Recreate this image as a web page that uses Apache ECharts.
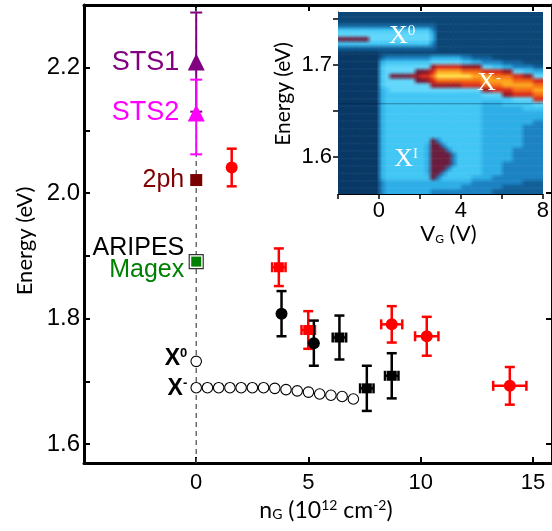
<!DOCTYPE html>
<html><head><meta charset="utf-8">
<script src="https://cdn.jsdelivr.net/npm/echarts@6/dist/echarts.min.js"></script>
<style>html,body{margin:0;padding:0;background:#fff}#c{width:552px;height:531px}</style>
</head><body><div id="c"></div>
<script>
// ===== Main panel data =====
const xTickVals = [0, 5, 10, 15];
const yTickVals = [1.6, 1.8, 2.0, 2.2];
const yMinorVals = [1.6, 1.7, 1.8, 1.9, 2.0, 2.1, 2.2];

// open circles: X- trion vs n_G
const xMinusN = [0, 0.5, 1, 1.5, 2, 2.5, 3, 3.5, 4, 4.5, 5, 5.5, 6, 6.5, 7];
const xMinusE = [1.690, 1.690, 1.690, 1.690, 1.690, 1.690, 1.690, 1.689, 1.687, 1.685, 1.683, 1.680, 1.678, 1.676, 1.672];
const x0N = [0];
const x0E = [1.732];

// points at n_G = 0
const sts1 = [0, 2.209, 2.130, 2.288];   // x, y, low, high
const sts2 = [0, 2.128, 2.062, 2.181];
const twoPh = [0, 2.021];
const magex = [0, 1.891];

// red points
const redX = [1.58, 3.68, 4.99, 8.71, 10.27, 13.97];
const redY = [2.041, 1.882, 1.782, 1.791, 1.772, 1.693];
const redYerr = [0.030, 0.030, 0.030, 0.029, 0.031, 0.030];
const redXerr = [0, 0.3, 0.3, 0.47, 0.52, 0.74];
const redSym = ['circle', 'rect', 'rect', 'circle', 'circle', 'circle'];

// black points
const blkX = [3.80, 5.24, 6.38, 7.60, 8.71];
const blkY = [1.808, 1.761, 1.770, 1.689, 1.709];
const blkYerr = [0.036, 0.036, 0.035, 0.036, 0.036];
const blkXerr = [0, 0, 0.3, 0.3, 0.3];
const blkSym = ['circle', 'circle', 'rect', 'rect', 'rect'];

// text labels left of n_G = 0
const leftLabelText = ['STS1', 'STS2', '2ph', 'ARIPES', 'Magex'];
const leftLabelE = [2.209, 2.128, 2.021, 1.912, 1.877];
const leftLabelColor = ['#800080', '#ff00ff', '#800000', '#000000', '#008000'];
const leftLabelSize = [27, 27, 25, 25, 25];

// ===== Inset data (PL map, Energy vs V_G) =====
const insetXTicks = [-2, 0, 2, 4, 6, 8];
const insetXLabels = [0, 4, 8];
const insetYTicks = [1.6, 1.65, 1.7, 1.75];
const insetYLabels = [1.6, 1.7];
const mapV0 = -2, mapDV = 0.25;       // column start / width (V)
const mapEtop = 1.76, mapDE = 0.005;  // row top / height (eV)
// intensity levels, rows top (high E) -> bottom
const mapRows = [
"11111111 11 1111 1111 11 1111 11 11 11 11 11 11 11 11",
"11111111 11 1111 1111 11 1111 11 11 11 11 11 11 11 11",
"11111111 11 1111 1111 11 1111 11 11 11 11 11 11 11 11",
"22222222 22 2222 2222 21 1111 11 11 11 11 11 11 11 11",
"55555555 55 5555 5555 31 1111 11 11 11 11 11 11 11 11",
"66666666 66 6666 6666 41 1111 11 11 11 11 11 11 11 11",
"cccccc66 66 6666 6666 41 1111 11 11 11 11 11 11 11 11",
"55555555 55 5555 5555 31 1111 11 11 11 11 11 11 11 11",
"22222222 22 2222 2222 21 1111 11 11 11 11 11 11 11 11",
"00000000 11 1111 1111 11 1111 11 11 11 11 11 11 11 11",
"00000000 23 3333 3333 44 4444 33 22 22 11 11 11 11 11",
"00000000 45 5555 5555 66 6666 55 44 33 33 22 22 11 11",
"00000000 56 6666 6666 78 8888 77 77 66 55 44 33 33 22",
"00000000 56 6666 6cc7 8a aaaa 99 99 88 88 77 66 55 44",
"00000000 56 cccc 7788 9b bbbb bb aa aa 99 99 88 77 66",
"00000000 56 6666 6cc7 89 9999 99 99 aa aa aa 99 99 88",
"00000000 56 6666 6666 77 7777 88 88 99 99 aa aa aa 99",
"00000000 45 6666 6666 66 6666 66 66 77 88 88 99 99 aa",
"00000000 45 5555 5555 55 5555 55 55 66 66 77 88 88 99",
"00000000 45 5555 5555 55 5555 55 55 55 55 55 66 66 88",
"00000000 45 5555 5555 55 5555 55 55 44 44 55 55 55 66",
"00000000 45 5555 5555 55 5555 55 55 44 44 44 44 55 55",
"00000000 45 5555 5555 55 5555 55 55 44 44 44 44 44 44",
"00000000 45 5555 5555 55 5555 55 55 44 44 44 44 44 44",
"00000000 45 5555 5555 55 5555 55 55 44 44 44 44 44 33",
"00000000 45 5555 5555 55 5555 55 55 44 44 44 44 33 33",
"00000000 45 5555 5555 55 5555 55 55 44 44 44 44 33 33",
"00000000 45 5555 5555 55 5555 55 55 44 44 44 44 33 33",
"00000000 45 5555 5555 c3 5555 55 55 44 44 44 44 33 33",
"00000000 45 5555 5554 cc 3555 55 55 44 44 44 44 33 33",
"00000000 45 5555 5554 cc c355 55 55 44 44 44 33 33 33",
"00000000 45 5555 5554 cc cc35 55 55 44 44 44 33 33 33",
"00000000 45 5555 5554 cc cc35 55 55 44 44 44 33 33 33",
"00000000 45 5555 5554 cc cc35 55 55 44 44 33 33 33 33",
"00000000 45 5555 5554 cc c355 55 55 44 44 33 33 33 33",
"00000000 45 5555 5554 cc 3555 55 55 44 44 33 33 33 33",
"00000000 45 5555 5555 c3 5555 55 44 44 33 33 33 33 33",
"00000000 34 4444 4444 44 4444 44 33 33 33 33 33 22 22",
"00000000 34 4444 4444 44 4444 33 33 33 33 22 22 22 22",
"00000000 34 4444 4444 33 3333 33 33 33 22 22 22 22 22"
];
const mapPalette = {
  '0': '#083865', '1': '#0b4676', '2': '#115f98', '3': '#1c82c2', '4': '#2eaee6',
  '5': '#42c6f4', '6': '#62d6fb', '7': '#9a1622', '8': '#d8281a', '9': '#f46c14',
  'a': '#fca61e', 'b': '#ffe04a', 'c': '#6c1c3c'
};
const darkLineE = 1.6577;
const insetTags = [
  { v: 1.13, e: 1.7305, base: 'X', sup: '0' },
  { v: 5.37, e: 1.6800, base: 'X', sup: '-' },
  { v: 1.32, e: 1.5976, base: 'X', sup: 'I' }
];

// ===== display of the map: smooth (bilinear) shading between cell centres =====
const SUB = 4;
const hexRgb = h => [parseInt(h.slice(1, 3), 16), parseInt(h.slice(3, 5), 16), parseInt(h.slice(5, 7), 16)];
const cellRgb = mapRows.map(r => r.replace(/ /g, '').split('').map(ch => hexRgb(mapPalette[ch])));
const nRows = cellRgb.length, nCols = cellRgb[0].length;
const mix = (a, b, w) => [a[0] + (b[0] - a[0]) * w, a[1] + (b[1] - a[1]) * w, a[2] + (b[2] - a[2]) * w];
const css = c => 'rgb(' + Math.round(c[0]) + ',' + Math.round(c[1]) + ',' + Math.round(c[2]) + ')';
const strips = [];      // [vLeft, vRight, eTop, eBottom, colourIndexL, colourIndexR]
const stripCols = [];
for (let j = 0; j < nRows; j++) {
  for (let k = 0; k < SUB; k++) {
    const t = (k + 0.5) / SUB;
    const ja = t < 0.5 ? Math.max(j - 1, 0) : j;
    const jb = t < 0.5 ? j : Math.min(j + 1, nRows - 1);
    const w = t < 0.5 ? t + 0.5 : t - 0.5;
    const base = stripCols.length;
    for (let i = 0; i < nCols; i++) stripCols.push(css(mix(cellRgb[ja][i], cellRgb[jb][i], w)));
    const eTop = mapEtop - (j + k / SUB) * mapDE;
    const eBot = eTop - mapDE / SUB;
    for (let i = -1; i < nCols; i++) {
      const il = Math.max(i, 0), ir = Math.min(i + 1, nCols - 1);
      strips.push([mapV0 + (i + 0.5) * mapDV, mapV0 + (i + 1.5) * mapDV, eTop, eBot, base + il, base + ir]);
    }
  }
}

const FONT = '"Liberation Sans", Arial, sans-serif';
const TFONT = 'Lato, "Open Sans", sans-serif';

function errRender(color, lw, cap) {
  return function (params, api) {
    const x = api.value(0), y = api.value(1);
    const xl = api.value(2), xh = api.value(3), yl = api.value(4), yh = api.value(5);
    const ch = [];
    const st = { stroke: color, lineWidth: lw };
    if (yh > yl) {
      const a = api.coord([x, yh]), b = api.coord([x, yl]);
      ch.push({ type: 'line', shape: { x1: a[0], y1: a[1], x2: b[0], y2: b[1] }, style: st });
      ch.push({ type: 'line', shape: { x1: a[0] - cap, y1: a[1], x2: a[0] + cap, y2: a[1] }, style: st });
      ch.push({ type: 'line', shape: { x1: b[0] - cap, y1: b[1], x2: b[0] + cap, y2: b[1] }, style: st });
    }
    if (xh > xl) {
      const a = api.coord([xl, y]), b = api.coord([xh, y]);
      ch.push({ type: 'line', shape: { x1: a[0], y1: a[1], x2: b[0], y2: b[1] }, style: st });
      ch.push({ type: 'line', shape: { x1: a[0], y1: a[1] - cap, x2: a[0], y2: a[1] + cap }, style: st });
      ch.push({ type: 'line', shape: { x1: b[0], y1: b[1] - cap, x2: b[0], y2: b[1] + cap }, style: st });
    }
    return { type: 'group', children: ch };
  };
}

const redErr = redX.map((x, k) => [x, redY[k], x - redXerr[k], x + redXerr[k], redY[k] - redYerr[k], redY[k] + redYerr[k]]);
const blkErr = blkX.map((x, k) => [x, blkY[k], x - blkXerr[k], x + blkXerr[k], blkY[k] - blkYerr[k], blkY[k] + blkYerr[k]]);
const stsErr1 = [[sts1[0], sts1[1], 0, 0, sts1[2], sts1[3]]];
const stsErr2 = [[sts2[0], sts2[1], 0, 0, sts2[2], sts2[3]]];

const chart = echarts.init(document.getElementById('c'), null, { renderer: 'canvas' });
const mainAxisLine = { show: true, onZero: false, lineStyle: { color: '#000', width: 3 } };
const tickStyle = { color: '#000', width: 2 };
const opaque = { opacity: 1 };

const option = {
  animation: false,
  backgroundColor: '#fff',
  grid: [
    { left: 84, top: 5, width: 470, height: 458 },
    { left: 338, top: 12, width: 205, height: 182 }
  ],
  xAxis: [
    {
      gridIndex: 0, type: 'value', position: 'bottom', min: -5, max: 15.85,
      axisLine: mainAxisLine,
      axisTick: { show: true, inside: true, length: 6, lineStyle: tickStyle, customValues: xTickVals },
      axisLabel: { customValues: xTickVals, fontSize: 22, fontFamily: FONT, color: '#000', margin: 9 },
      splitLine: { show: false },
      name: '{m|n}{s|G}{m| (10}{p|12}{m| cm}{p|-2}{m|)}',
      nameLocation: 'middle', nameGap: 30,
      nameTextStyle: {
        padding: [0, 0, 0, 16],
        rich: {
          m: { fontSize: 23, fontFamily: TFONT, color: '#000' },
          s: { fontSize: 14, fontFamily: TFONT, color: '#000', verticalAlign: 'bottom' },
          p: { fontSize: 14, fontFamily: TFONT, color: '#000', verticalAlign: 'top' }
        }
      }
    },
    {
      gridIndex: 0, type: 'value', position: 'top', min: -5, max: 15.85,
      axisLine: mainAxisLine,
      axisTick: { show: true, inside: true, length: 6, lineStyle: tickStyle, customValues: xTickVals },
      axisLabel: { show: false }, splitLine: { show: false }
    },
    {
      gridIndex: 1, type: 'value', position: 'bottom', min: -2, max: 8,
      axisLine: { show: true, onZero: false, lineStyle: { color: '#000', width: 1 } },
      axisTick: { show: true, inside: false, length: 5, lineStyle: { color: '#000', width: 1.5 }, customValues: insetXTicks },
      axisLabel: { customValues: insetXLabels, fontSize: 22, fontFamily: FONT, color: '#000', margin: 6 },
      splitLine: { show: false },
      name: '{m|V}{s|G}{m| (V)}', nameLocation: 'middle', nameGap: 28,
      nameTextStyle: {
        padding: [0, 0, 0, 16],
        rich: {
          m: { fontSize: 22, fontFamily: TFONT, color: '#000' },
          s: { fontSize: 12, fontFamily: TFONT, color: '#000', verticalAlign: 'bottom' }
        }
      }
    }
  ],
  yAxis: [
    {
      gridIndex: 0, type: 'value', position: 'left', min: 1.57, max: 2.30,
      axisLine: mainAxisLine,
      axisTick: { show: true, inside: true, length: 6, lineStyle: tickStyle, customValues: yMinorVals },
      axisLabel: { customValues: yTickVals, fontSize: 24, fontFamily: FONT, color: '#000', margin: 4, formatter: v => v.toFixed(1) },
      splitLine: { show: false },
      name: 'Energy (eV)', nameLocation: 'middle', nameGap: 46,
      nameTextStyle: { fontSize: 22, fontFamily: TFONT, color: '#000', padding: [0, 14, 0, 0] }
    },
    {
      gridIndex: 0, type: 'value', position: 'right', min: 1.57, max: 2.30,
      axisLine: mainAxisLine,
      axisTick: { show: true, inside: true, length: 6, lineStyle: tickStyle, customValues: yTickVals },
      axisLabel: { show: false }, splitLine: { show: false }
    },
    {
      gridIndex: 1, type: 'value', position: 'left', min: 1.56, max: 1.757,
      axisLine: { show: true, onZero: false, lineStyle: { color: '#000', width: 1 } },
      axisTick: { show: true, inside: false, length: 5, lineStyle: { color: '#000', width: 1.5 }, customValues: insetYTicks },
      axisLabel: { customValues: insetYLabels, fontSize: 22, fontFamily: FONT, color: '#000', margin: 6, formatter: v => v.toFixed(1) },
      splitLine: { show: false },
      name: 'Energy (eV)', nameLocation: 'middle', nameGap: 44,
      nameTextStyle: { fontSize: 21, fontFamily: TFONT, color: '#000', padding: [0, 0, 0, 18] }
    }
  ],
  series: [
    {
      type: 'line', xAxisIndex: 0, yAxisIndex: 0, data: [[0, 1.57], [0, 2.30]],
      symbol: 'none', lineStyle: { color: '#555', width: 1.3, type: [5, 4] }, z: 1, silent: true
    },
    { type: 'custom', xAxisIndex: 0, yAxisIndex: 0, renderItem: errRender('#800080', 2, 6), data: stsErr1, z: 3 },
    { type: 'custom', xAxisIndex: 0, yAxisIndex: 0, renderItem: errRender('#ff00ff', 2, 6), data: stsErr2, z: 3 },
    { type: 'custom', xAxisIndex: 0, yAxisIndex: 0, renderItem: errRender('#ff0000', 2.5, 5), data: redErr, z: 3 },
    { type: 'custom', xAxisIndex: 0, yAxisIndex: 0, renderItem: errRender('#000000', 2.5, 5), data: blkErr, z: 3 },
    { type: 'scatter', xAxisIndex: 0, yAxisIndex: 0, data: [[sts1[0], sts1[1]]], symbol: 'triangle', symbolSize: 17, itemStyle: { color: '#800080', opacity: 1 }, z: 4 },
    { type: 'scatter', xAxisIndex: 0, yAxisIndex: 0, data: [[sts2[0], sts2[1]]], symbol: 'triangle', symbolSize: 17, itemStyle: { color: '#ff00ff', opacity: 1 }, z: 4 },
    { type: 'scatter', xAxisIndex: 0, yAxisIndex: 0, data: [twoPh], symbol: 'rect', symbolSize: 12, itemStyle: { color: '#7a0000', opacity: 1 }, z: 4 },
    { type: 'scatter', xAxisIndex: 0, yAxisIndex: 0, data: [magex], symbol: 'rect', symbolSize: 14, itemStyle: { color: '#fff', borderColor: '#333', borderWidth: 1.2, opacity: 1 }, z: 4 },
    { type: 'scatter', xAxisIndex: 0, yAxisIndex: 0, data: [magex], symbol: 'rect', symbolSize: 10, itemStyle: { color: '#008000', opacity: 1 }, z: 5 },
    {
      type: 'scatter', xAxisIndex: 0, yAxisIndex: 0,
      data: redX.map((x, k) => ({ value: [x, redY[k]], symbol: redSym[k], symbolSize: redSym[k] === 'rect' ? 10 : 12 })),
      itemStyle: { color: '#ff0000', opacity: 1 }, z: 4
    },
    {
      type: 'scatter', xAxisIndex: 0, yAxisIndex: 0,
      data: blkX.map((x, k) => ({ value: [x, blkY[k]], symbol: blkSym[k], symbolSize: blkSym[k] === 'rect' ? 10 : 12 })),
      itemStyle: { color: '#000', opacity: 1 }, z: 4
    },
    {
      type: 'scatter', xAxisIndex: 0, yAxisIndex: 0,
      data: xMinusN.map((x, k) => [x, xMinusE[k]]).concat(x0N.map((x, k) => [x, x0E[k]])),
      symbol: 'circle', symbolSize: 10.5,
      itemStyle: { color: '#fff', borderColor: '#000', borderWidth: 1.1, opacity: 1 }, z: 4
    },
    {
      type: 'scatter', xAxisIndex: 0, yAxisIndex: 0, symbolSize: 0, silent: true, z: 6, itemStyle: opaque,
      data: leftLabelText.map((t, k) => ({
        value: [0, leftLabelE[k]],
        label: { show: true, position: 'left', distance: k < 2 ? 17 : 12, formatter: t, color: leftLabelColor[k], fontSize: leftLabelSize[k], fontFamily: FONT }
      }))
    },
    {
      type: 'scatter', xAxisIndex: 0, yAxisIndex: 0, symbolSize: 0, silent: true, z: 6, itemStyle: opaque,
      data: [
        { value: [0, 1.736], label: { formatter: '{b|X}{s|0}' } },
        { value: [0, 1.689], label: { formatter: '{b|X}{s|-}' } }
      ],
      label: {
        show: true, position: 'left', distance: 9,
        rich: {
          b: { fontSize: 23, fontWeight: 'bold', fontFamily: FONT, color: '#000' },
          s: { fontSize: 13, fontWeight: 'bold', fontFamily: FONT, color: '#000', verticalAlign: 'top' }
        }
      }
    },
    // inset PL map
    {
      type: 'custom', xAxisIndex: 2, yAxisIndex: 2, clip: true, silent: true, z: 2,
      progressive: 0, data: strips,
      renderItem: function (params, api) {
        const s = strips[params.dataIndex];
        const p1 = api.coord([s[0], s[2]]);
        const p2 = api.coord([s[1], s[3]]);
        return {
          type: 'rect',
          shape: { x: p1[0], y: p1[1], width: p2[0] - p1[0] + 0.6, height: p2[1] - p1[1] + 0.6 },
          style: {
            fill: { type: 'linear', x: 0, y: 0, x2: 1, y2: 0, global: false,
              colorStops: [{ offset: 0, color: stripCols[s[4]] }, { offset: 1, color: stripCols[s[5]] }] }
          }
        };
      }
    },
    {
      type: 'line', xAxisIndex: 2, yAxisIndex: 2, data: [[-2, darkLineE], [8, darkLineE]],
      symbol: 'none', lineStyle: { color: 'rgba(5,30,60,0.4)', width: 1 }, z: 4, silent: true
    },
    {
      type: 'scatter', xAxisIndex: 2, yAxisIndex: 2, symbolSize: 0, silent: true, z: 6, itemStyle: opaque,
      data: insetTags.map(t => ({ value: [t.v, t.e], label: { formatter: '{b|' + t.base + '}{s|' + t.sup + '}' } })),
      label: {
        show: true, position: 'inside',
        rich: {
          b: { fontSize: 26, fontFamily: '"Liberation Serif", "DejaVu Serif", serif', color: '#fff' },
          s: { fontSize: 15, fontFamily: '"Liberation Serif", "DejaVu Serif", serif', color: '#fff', verticalAlign: 'top' }
        }
      }
    }
  ]
};
chart.setOption(option);
</script>
</body></html>
